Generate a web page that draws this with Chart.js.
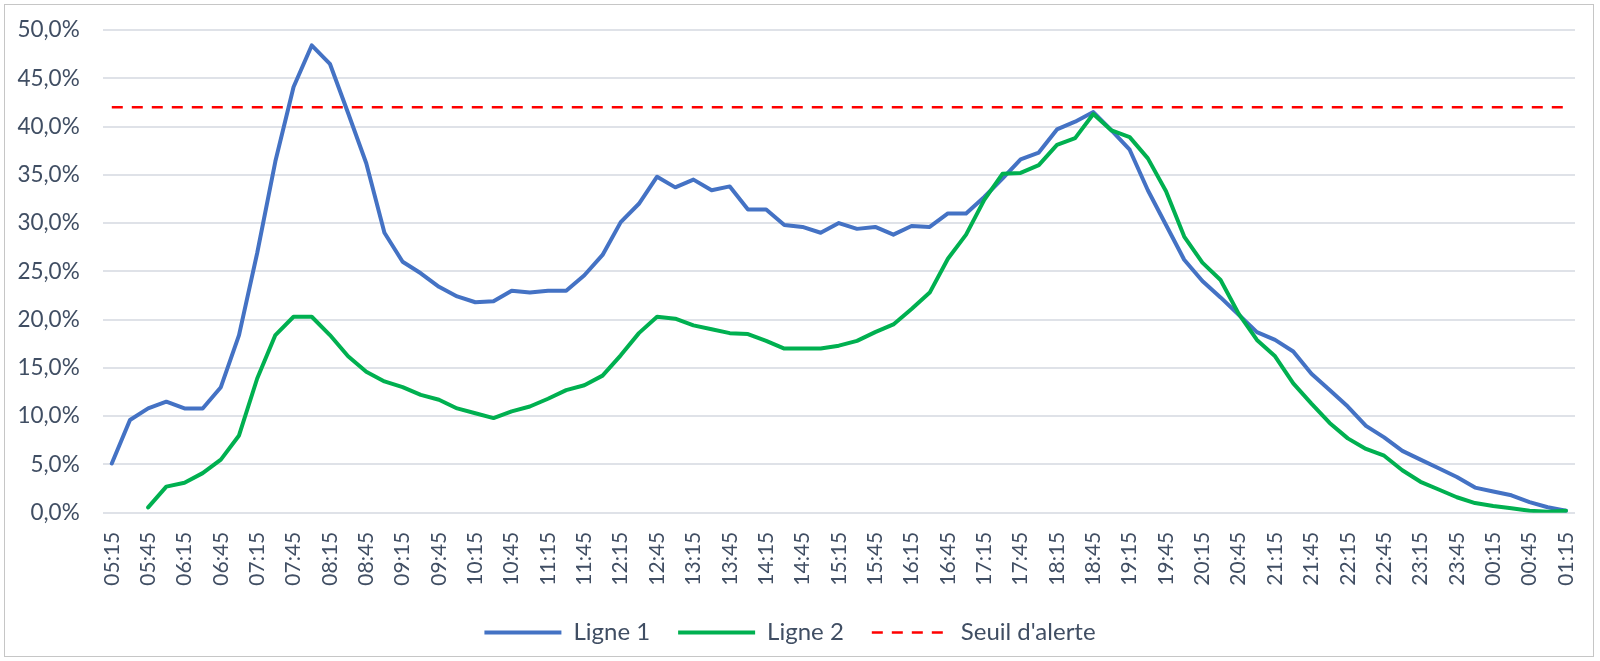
<!DOCTYPE html>
<html lang="fr">
<head>
<meta charset="utf-8">
<title>Ligne 1 / Ligne 2 - taux par quart d'heure</title>
<script src="https://cdn.jsdelivr.net/npm/chart.js@4.4.1/dist/chart.umd.min.js"></script>
<style>
  html, body { margin: 0; padding: 0; background: #fff; }
  #cadre {
    position: absolute; left: 4px; top: 4px;
    width: 1590px; height: 653px;
    border: 1px solid #c6c6c6; box-sizing: border-box;
  }
  #zone { position: absolute; left: 0; top: 0; width: 100%; height: 100%; }
</style>
</head>
<body>
<div id="cadre"><div id="zone"><canvas id="graphique"></canvas></div></div>
<script>
// Quarts d'heure de 05:15 à 01:15
const heures = [
  "05:15","05:30","05:45","06:00","06:15","06:30","06:45","07:00","07:15","07:30",
  "07:45","08:00","08:15","08:30","08:45","09:00","09:15","09:30","09:45","10:00",
  "10:15","10:30","10:45","11:00","11:15","11:30","11:45","12:00","12:15","12:30",
  "12:45","13:00","13:15","13:30","13:45","14:00","14:15","14:30","14:45","15:00",
  "15:15","15:30","15:45","16:00","16:15","16:30","16:45","17:00","17:15","17:30",
  "17:45","18:00","18:15","18:30","18:45","19:00","19:15","19:30","19:45","20:00",
  "20:15","20:30","20:45","21:00","21:15","21:30","21:45","22:00","22:15","22:30",
  "22:45","23:00","23:15","23:30","23:45","00:00","00:15","00:30","00:45","01:00",
  "01:15"
];

// Étiquettes affichées sur l'axe horizontal (une sur deux)
const etiquettesAxe = [
  "05:15","05:45","06:15","06:45","07:15","07:45","08:15","08:45","09:15","09:45",
  "10:15","10:45","11:15","11:45","12:15","12:45","13:15","13:45","14:15","14:45",
  "15:15","15:45","16:15","16:45","17:15","17:45","18:15","18:45","19:15","19:45",
  "20:15","20:45","21:15","21:45","22:15","22:45","23:15","23:45","00:15","00:45",
  "01:15"
];

// Valeurs en %
const ligne1 = [
  5.1, 9.6, 10.8, 11.5, 10.8, 10.8, 13.0, 18.4, 26.9, 36.4,
  44.1, 48.4, 46.5, 41.4, 36.2, 29.0, 26.0, 24.8, 23.4, 22.4,
  21.8, 21.9, 23.0, 22.8, 23.0, 23.0, 24.6, 26.7, 30.1, 32.0,
  34.8, 33.7, 34.5, 33.4, 33.8, 31.4, 31.4, 29.8, 29.6, 29.0,
  30.0, 29.4, 29.6, 28.8, 29.7, 29.6, 31.0, 31.0, 32.7, 34.6,
  36.6, 37.3, 39.7, 40.5, 41.5, 39.6, 37.6, 33.4, 29.8, 26.2,
  24.0, 22.3, 20.5, 18.7, 17.9, 16.7, 14.4, 12.7, 11.0, 9.0,
  7.8, 6.4, 5.5, 4.6, 3.7, 2.6, 2.2, 1.8, 1.1, 0.56,
  0.2
];

const ligne2 = [
  null, null, 0.55, 2.7, 3.1, 4.1, 5.5, 8.0, 13.9, 18.4,
  20.3, 20.3, 18.4, 16.2, 14.6, 13.6, 13.0, 12.2, 11.7, 10.8,
  10.3, 9.8, 10.5, 11.0, 11.8, 12.7, 13.2, 14.2, 16.3, 18.6,
  20.3, 20.1, 19.4, 19.0, 18.6, 18.5, 17.8, 17.0, 17.0, 17.0,
  17.3, 17.8, 18.7, 19.5, 21.1, 22.8, 26.3, 28.8, 32.4, 35.1,
  35.2, 36.0, 38.1, 38.8, 41.3, 39.6, 38.9, 36.7, 33.3, 28.6,
  25.9, 24.1, 20.6, 17.9, 16.2, 13.4, 11.3, 9.3, 7.7, 6.6,
  5.9, 4.4, 3.2, 2.4, 1.6, 1.0, 0.7, 0.45, 0.2, 0.1,
  0.2
];

const seuilAlerte = 42;

const couleurTexte = "#404e63";

Chart.defaults.font.family = "Lato";
Chart.defaults.color = couleurTexte;

const ctx = document.getElementById("graphique").getContext("2d");
new Chart(ctx, {
  type: "line",
  data: {
    labels: heures,
    datasets: [
      {
        label: "Ligne 1",
        data: ligne1,
        borderColor: "#4472c4",
        backgroundColor: "#4472c4",
        borderWidth: 4,
        order: 3
      },
      {
        label: "Ligne 2",
        data: ligne2,
        borderColor: "#00b050",
        backgroundColor: "#00b050",
        borderWidth: 4,
        order: 2
      },
      {
        label: "Seuil d'alerte",
        data: [
          { x: heures[0], y: seuilAlerte },
          { x: heures[heures.length - 1], y: seuilAlerte }
        ],
        borderColor: "#ff0000",
        backgroundColor: "#ff0000",
        borderWidth: 2.5,
        borderDash: [11, 9],
        borderCapStyle: "butt",
        order: 1
      }
    ]
  },
  options: {
    responsive: true,
    maintainAspectRatio: false,
    animation: false,
    devicePixelRatio: 1,
    elements: {
      point: { radius: 0, hoverRadius: 0 },
      line: { tension: 0, borderJoinStyle: "round", borderCapStyle: "round" }
    },
    layout: {
      padding: { top: 25, right: 18, bottom: 1.5, left: 0 }
    },
    scales: {
      x: {
        offset: true,
        grid: { display: false, drawTicks: false },
        border: { display: false },
        ticks: {
          autoSkip: false,
          minRotation: 90,
          maxRotation: 90,
          padding: 19,
          font: { size: 21 },
          callback: function(val, i) {
            const h = heures[i];
            return etiquettesAxe.includes(h) ? h : "";
          }
        },
        afterFit: function(scale) {
          scale.height = 79.8;
          scale.paddingLeft = 0;
          scale.paddingRight = 0;
        }
      },
      y: {
        min: 0,
        max: 50,
        grid: { color: "#dfe2e8", lineWidth: 2, drawTicks: false },
        border: { display: false },
        ticks: {
          stepSize: 5,
          padding: 23,
          font: { size: 22.5 },
          callback: function(v) {
            return v.toFixed(1).replace(".", ",") + "%";
          }
        },
        afterFit: function(scale) {
          scale.width = 97.7;
          scale.paddingTop = 0;
          scale.paddingBottom = 0;
        }
      }
    },
    plugins: {
      tooltip: { enabled: false },
      legend: {
        position: "bottom",
        labels: {
          usePointStyle: true,
          pointStyle: "line",
          pointStyleWidth: 77,
          padding: 28,
          color: couleurTexte,
          font: { family: "Lato", size: 24 },
          sort: function(a, b) { return a.datasetIndex - b.datasetIndex; },
          generateLabels: function(chart) {
            const items = Chart.defaults.plugins.legend.labels.generateLabels(chart);
            items.forEach(function(item) {
              const ds = chart.data.datasets[item.datasetIndex];
              item.strokeStyle = ds.borderColor;
              item.lineWidth = ds.borderWidth;
              item.lineDash = ds.borderDash || [];
            });
            return items;
          }
        }
      }
    }
  }
});
</script>
</body>
</html>
